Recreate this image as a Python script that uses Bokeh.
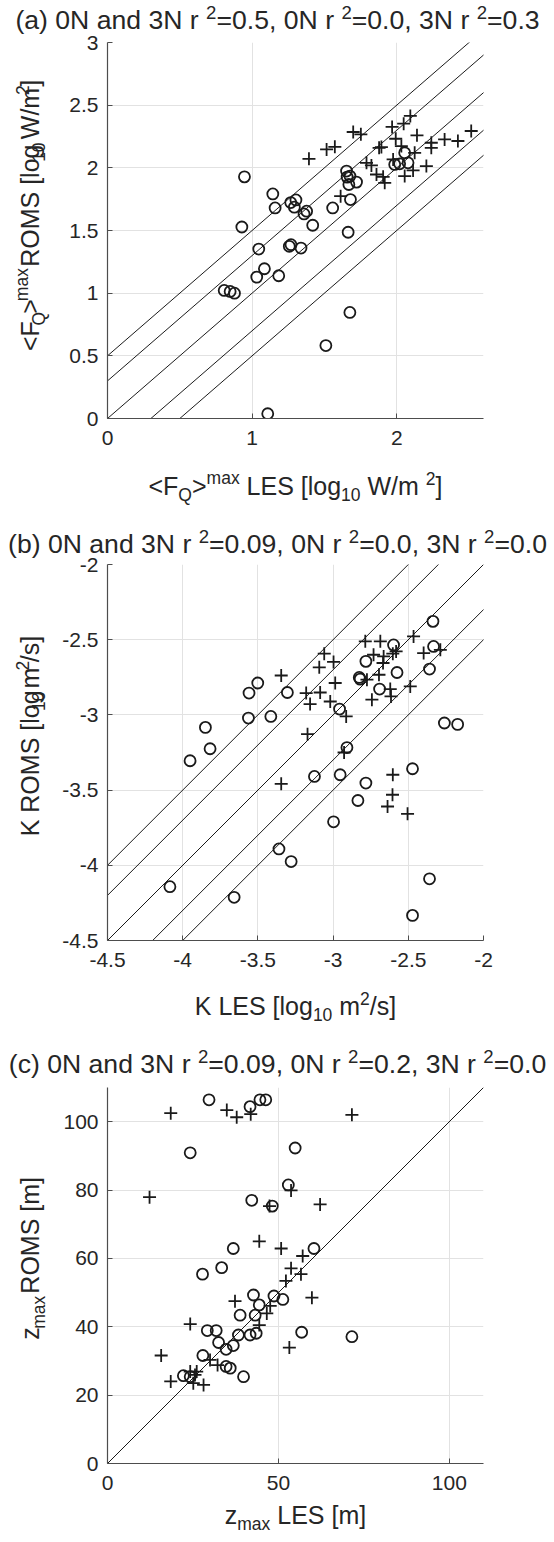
import math
from bokeh.plotting import figure
from bokeh.models import FixedTicker, Range1d, CustomJSTickFormatter, ColumnDataSource
from bokeh.layouts import column, row
from bokeh.core.properties import value
from bokeh.embed import file_html
from bokeh.resources import INLINE

# ---------------- data ----------------
# panel (a): <F_Q>^max [log10 W/m^2], LES (x) vs ROMS (y)
a_les_0N = [0.947, 1.143, 1.159, 1.267, 1.303, 1.292, 1.377, 1.359, 1.419, 1.557, 1.653, 1.657,
            1.676, 1.669, 1.722, 1.680, 1.664, 0.929, 2.055, 1.986, 2.078, 2.020, 1.046, 1.269,
            1.257, 1.338, 1.085, 1.032, 1.184, 0.807, 0.848, 0.878, 1.676, 1.510, 1.108]
a_roms_0N = [1.928, 1.792, 1.680, 1.723, 1.744, 1.686, 1.654, 1.632, 1.542, 1.680, 1.974, 1.926,
             1.934, 1.867, 1.886, 1.747, 1.486, 1.528, 2.120, 2.027, 2.040, 2.032, 1.352, 1.387,
             1.374, 1.360, 1.195, 1.128, 1.139, 1.022, 1.014, 1.000, 0.846, 0.582, 0.038]
a_les_3N = [1.393, 1.515, 1.572, 1.699, 1.752, 1.612, 1.791, 1.825, 1.878, 1.894, 1.860, 1.906,
            1.917, 1.968, 2.048, 2.094, 1.993, 2.032, 2.140, 2.124, 1.975, 2.055, 2.113, 2.205,
            2.239, 2.239, 2.331, 2.423, 2.515]
a_roms_3N = [2.072, 2.147, 2.168, 2.286, 2.267, 1.774, 2.040, 2.019, 2.160, 2.166, 1.947, 1.928,
             1.880, 2.326, 2.352, 2.414, 2.232, 2.174, 2.259, 2.120, 2.067, 1.934, 1.979, 2.014,
             2.160, 2.200, 2.227, 2.214, 2.294]

# panel (b): K [log10 m^2/s]
b_les_0N = [-2.336, -2.598, -2.332, -2.782, -2.575, -2.359, -2.826, -2.820, -2.691, -3.501, -3.559,
            -3.304, -2.957, -3.563, -3.414, -3.849, -3.818, -3.951, -2.908, -2.260, -2.172, -3.124,
            -2.953, -2.472, -2.782, -2.835, -2.997, -3.360, -3.279, -2.359, -4.085, -3.658, -2.472]
b_roms_0N = [-2.378, -2.535, -2.545, -2.644, -2.718, -2.695, -2.751, -2.762, -2.828, -2.788, -2.855,
             -2.851, -2.961, -3.021, -3.010, -3.083, -3.225, -3.305, -3.217, -3.054, -3.063, -3.409,
             -3.398, -3.358, -3.453, -3.569, -3.711, -3.891, -3.975, -4.090, -4.142, -4.213, -4.333]
b_les_3N = [-2.786, -2.686, -2.465, -2.581, -2.603, -2.731, -2.664, -2.398, -2.287, -2.668, -2.695,
            -2.775, -2.487, -2.620, -2.615, -2.742, -3.059, -2.997, -3.092, -3.345, -2.986, -3.179,
            -3.086, -3.153, -3.019, -2.913, -3.170, -2.927, -3.345, -2.603, -2.605, -2.638, -2.505]
b_roms_3N = [-2.511, -2.511, -2.478, -2.578, -2.593, -2.600, -2.611, -2.589, -2.567, -2.655, -2.733,
             -2.766, -2.811, -2.828, -2.877, -2.899, -2.593, -2.648, -2.684, -2.738, -2.788, -2.855,
             -2.851, -2.928, -2.911, -3.010, -3.128, -3.250, -3.458, -3.398, -3.531, -3.609, -3.658]

# panel (c): z_max [m]
c_les_0N = [29.7, 41.7, 44.6, 46.3, 24.2, 54.9, 52.9, 42.2, 48.2, 36.8, 60.4, 33.4, 27.8, 42.7,
            48.7, 51.3, 44.4, 38.8, 43.2, 29.2, 31.8, 38.3, 41.7, 43.5, 56.8, 71.5, 32.5, 34.7,
            36.8, 27.9, 34.7, 35.9, 39.8, 22.2, 24.2]
c_roms_0N = [106.4, 104.4, 106.4, 106.4, 90.9, 92.3, 81.5, 77.0, 75.3, 62.9, 62.9, 57.3, 55.4, 49.3,
             49.0, 48.0, 46.4, 43.4, 43.4, 38.9, 38.9, 37.6, 37.6, 38.1, 38.4, 37.1, 35.4, 33.4,
             34.5, 31.6, 28.4, 27.9, 25.4, 25.7, 25.4]
c_les_3N = [18.5, 34.9, 37.8, 41.9, 71.5, 53.7, 12.3, 47.4, 62.2, 44.4, 50.8, 57.1, 53.7, 56.6,
            52.2, 59.8, 37.3, 47.6, 46.6, 44.4, 24.2, 53.2, 15.7, 30.0, 32.2, 18.5, 24.2, 26.1,
            25.6, 25.1, 28.1]
c_roms_3N = [102.5, 103.4, 101.3, 102.2, 102.0, 79.9, 77.9, 75.3, 75.8, 65.0, 62.9, 60.7, 57.1, 55.4,
             53.4, 48.5, 47.5, 46.1, 43.9, 40.5, 40.8, 33.9, 31.6, 30.3, 28.8, 24.0, 26.9, 26.9,
             25.9, 23.5, 23.0]

# reference line offsets (ROMS = LES + offset)
ab_offsets = [0.5, 0.3, 0.0, -0.3, -0.5]
c_offsets = [0.0]

# ticks
a_xticks = [0, 1, 2]
a_yticks = [0, 0.5, 1, 1.5, 2, 2.5, 3]
b_ticks = [-4.5, -4, -3.5, -3, -2.5, -2]
c_xticks = [0, 50, 100]
c_yticks = [0, 20, 40, 60, 80, 100]

# rich texts (segments: text, scale, rise in em)
def sup(t): return (t, 0.7, 0.4)
def sub(t): return (t, 0.7, -0.25)
def nor(t): return (t, 1.0, 0.0)

title_a = [nor("(a) 0N and 3N r "), sup("2"), nor("=0.5, 0N r "), sup("2"), nor("=0.0, 3N r "), sup("2"), nor("=0.3")]
title_b = [nor("(b) 0N and 3N r "), sup("2"), nor("=0.09, 0N r "), sup("2"), nor("=0.0, 3N r "), sup("2"), nor("=0.0")]
title_c = [nor("(c) 0N and 3N r "), sup("2"), nor("=0.09, 0N r "), sup("2"), nor("=0.2, 3N r "), sup("2"), nor("=0.0")]
xlab_a = [nor("<F"), sub("Q"), nor(">"), sup("max"), nor(" LES [log"), sub("10"), nor(" W/m "), sup("2"), nor("]")]
ylab_a = [nor("<F"), sub("Q"), nor(">"), sup("max"), nor(" ROMS [log"), sub("10"), nor(" W/m"), sup("2"), nor("]")]
xlab_b = [nor("K LES [log"), sub("10"), nor(" m"), sup("2"), nor("/s]")]
ylab_b = [nor("K ROMS [log"), sub("10"), nor(" m"), sup("2"), nor("/s]")]
xlab_c = [nor("z"), sub("max"), nor(" LES [m]")]
ylab_c = [nor("z"), sub("max"), nor(" ROMS [m]")]

# ---------------- styling ----------------
FONT = "Liberation Sans"
TXT = "#262626"
TICK_PX = 21
LAB_PX = 25
TITLE_PX = 26.6
MID = 0.35          # middle of line box above the baseline, in em
FW = 376
FH = 376
PAGE_W = 554
YLAB_W = 56
LEFT = 107 - YLAB_W
RIGHT = 71
TOPM = 14           # top border of plot figures (overlaps the title strip)

CW = {' ': 278, '(': 333, ')': 333, '[': 278, ']': 278, '<': 584, '>': 584, '=': 584, '/': 278,
      '.': 278, ',': 278, '-': 333,
      'A': 667, 'B': 667, 'C': 722, 'D': 722, 'E': 667, 'F': 611, 'G': 778, 'H': 722, 'I': 278,
      'J': 500, 'K': 667, 'L': 556, 'M': 833, 'N': 722, 'O': 778, 'P': 667, 'Q': 778, 'R': 722,
      'S': 667, 'T': 611, 'U': 722, 'V': 667, 'W': 944, 'X': 667, 'Y': 667, 'Z': 611,
      'a': 556, 'b': 556, 'c': 500, 'd': 556, 'e': 556, 'f': 278, 'g': 556, 'h': 556, 'i': 222,
      'j': 222, 'k': 500, 'l': 222, 'm': 833, 'n': 556, 'o': 556, 'p': 556, 'q': 556, 'r': 333,
      's': 500, 't': 278, 'u': 556, 'v': 500, 'w': 722, 'x': 500, 'y': 500, 'z': 500}


def twidth(s, size):
    return sum(CW.get(ch, 556) for ch in s) * size / 1000.0


def text_fig(w, h, fill="white"):
    p = figure(width=w, height=h, x_range=Range1d(0, w), y_range=Range1d(0, h), title=None,
               min_border=0, min_border_left=0, min_border_right=0, min_border_top=0,
               min_border_bottom=0, output_backend="svg", toolbar_location=None, tools="")
    p.axis.visible = False
    p.grid.visible = False
    p.outline_line_color = None
    p.background_fill_color = fill
    p.border_fill_color = fill
    return p


def rich(p, segs, cx, cy, size, vertical=False):
    """cx, cy: baseline centre (figure px, y measured from bottom)."""
    xs, ys, ts, fss = [], [], [], []
    total = sum(twidth(t, size * s) for t, s, r in segs)
    pos = (cy - total / 2.0) if vertical else (cx - total / 2.0)
    for t, s, r in segs:
        fs = size * s
        up = r * size + MID * fs
        lead = twidth(t[:len(t) - len(t.lstrip(" "))], fs)
        start = pos + lead
        if vertical:
            xs.append(cx - up)
            ys.append(start)
        else:
            xs.append(start)
            ys.append(cy + up)
        ts.append(t.strip(" "))
        fss.append(f"{fs:.1f}px")
        pos += twidth(t, fs)
    src = ColumnDataSource(dict(x=xs, y=ys, text=ts, fs=fss))
    p.text(x="x", y="y", text="text", source=src, angle=(math.pi / 2 if vertical else 0.0),
           text_font=value(FONT), text_font_size="fs", text_color=TXT,
           text_align="left", text_baseline="middle")


fmt = CustomJSTickFormatter(code="return String(Number(tick.toFixed(3)));")


def make_fig(xr, yr, xticks, yticks, bot):
    p = figure(frame_width=FW, frame_height=FH, title=None,
               min_border_left=LEFT, min_border_right=RIGHT,
               min_border_top=TOPM, min_border_bottom=bot,
               x_range=Range1d(*xr), y_range=Range1d(*yr),
               output_backend="svg", toolbar_location=None, tools="")
    p.outline_line_color = None
    p.background_fill_color = "white"
    p.border_fill_color = None
    for ax, ticks in ((p.xaxis, xticks), (p.yaxis, yticks)):
        ax.ticker = FixedTicker(ticks=ticks)
        ax.formatter = fmt
        ax.minor_tick_line_color = None
        ax.major_tick_in = 5
        ax.major_tick_out = 0
        ax.axis_line_color = "#4d4d4d"
        ax.major_tick_line_color = "#4d4d4d"
        ax.axis_line_width = 1.2
        ax.major_label_text_font = FONT
        ax.major_label_text_font_size = f"{TICK_PX}px"
        ax.major_label_text_color = TXT
    p.xaxis.major_label_standoff = 12
    p.yaxis.major_label_standoff = 9
    p.xgrid.grid_line_color = "#e2e2e2"
    p.ygrid.grid_line_color = "#e2e2e2"
    return p


def add_points(p, x0, y0, x3, y3):
    p.scatter(x0, y0, marker="circle", size=11, fill_color=None,
              line_color="#1a1a1a", line_width=1.8)
    p.scatter(x3, y3, marker="cross", size=13, line_color="#1a1a1a", line_width=1.8)


def add_lines(p, xr, offsets):
    lo, hi = xr[0] - 1.0, xr[1] + 1.0
    for c in offsets:
        p.line([lo, hi], [lo + c, hi + c], line_color="black", line_width=0.9)


def panel(title, xlab, ylab, main, bot, total_h, title_h, title_base, xlab_base, ylab_x=38):
    """title_h: strip above the plot frame; title_base: baseline from top of panel;
    xlab_base: baseline from top of x-label strip."""
    tf = text_fig(PAGE_W, title_h)
    rich(tf, title, PAGE_W / 2.0, title_h - title_base, TITLE_PX)
    main_h = TOPM + FH + bot
    yf = text_fig(YLAB_W, main_h, fill=None)
    rich(yf, ylab, ylab_x, bot + FH / 2.0, LAB_PX, vertical=True)
    xlab_h = total_h - title_h - (main_h - TOPM)
    xf = text_fig(PAGE_W, xlab_h)
    rich(xf, xlab, YLAB_W + LEFT + FW / 2.0, xlab_h - xlab_base, LAB_PX)
    mid = row(yf, main, spacing=0, margin=(-TOPM, 0, 0, 0))
    return column(tf, mid, xf, spacing=0)


# ---------- panel (a) ----------
xr_a, yr_a = (0, 2.6), (0, 3)
pa = make_fig(xr_a, yr_a, a_xticks, a_yticks, 48)
add_lines(pa, xr_a, ab_offsets)
add_points(pa, a_les_0N, a_roms_0N, a_les_3N, a_roms_3N)
panel_a = panel(title_a, xlab_a, ylab_a, pa, 48, 520, 42, 29, 28)

# ---------- panel (b) ----------
xr_b, yr_b = (-4.5, -2), (-4.5, -2)
pb = make_fig(xr_b, yr_b, b_ticks, b_ticks, 48)
add_lines(pb, xr_b, ab_offsets)
add_points(pb, b_les_0N, b_roms_0N, b_les_3N, b_roms_3N)
panel_b = panel(title_b, xlab_b, ylab_b, pb, 48, 523, 44, 33, 26)

# ---------- panel (c) ----------
xr_c, yr_c = (0, 110), (0, 110)
pc = make_fig(xr_c, yr_c, c_xticks, c_yticks, 37)
add_lines(pc, (-10, 120), c_offsets)
add_points(pc, c_les_0N, c_roms_0N, c_les_3N, c_roms_3N)
panel_c = panel(title_c, xlab_c, ylab_c, pc, 37, 499, 44, 30, 23)

layout = column(panel_a, panel_b, panel_c, spacing=0)
open("out.html", "w").write(file_html(layout, INLINE))
